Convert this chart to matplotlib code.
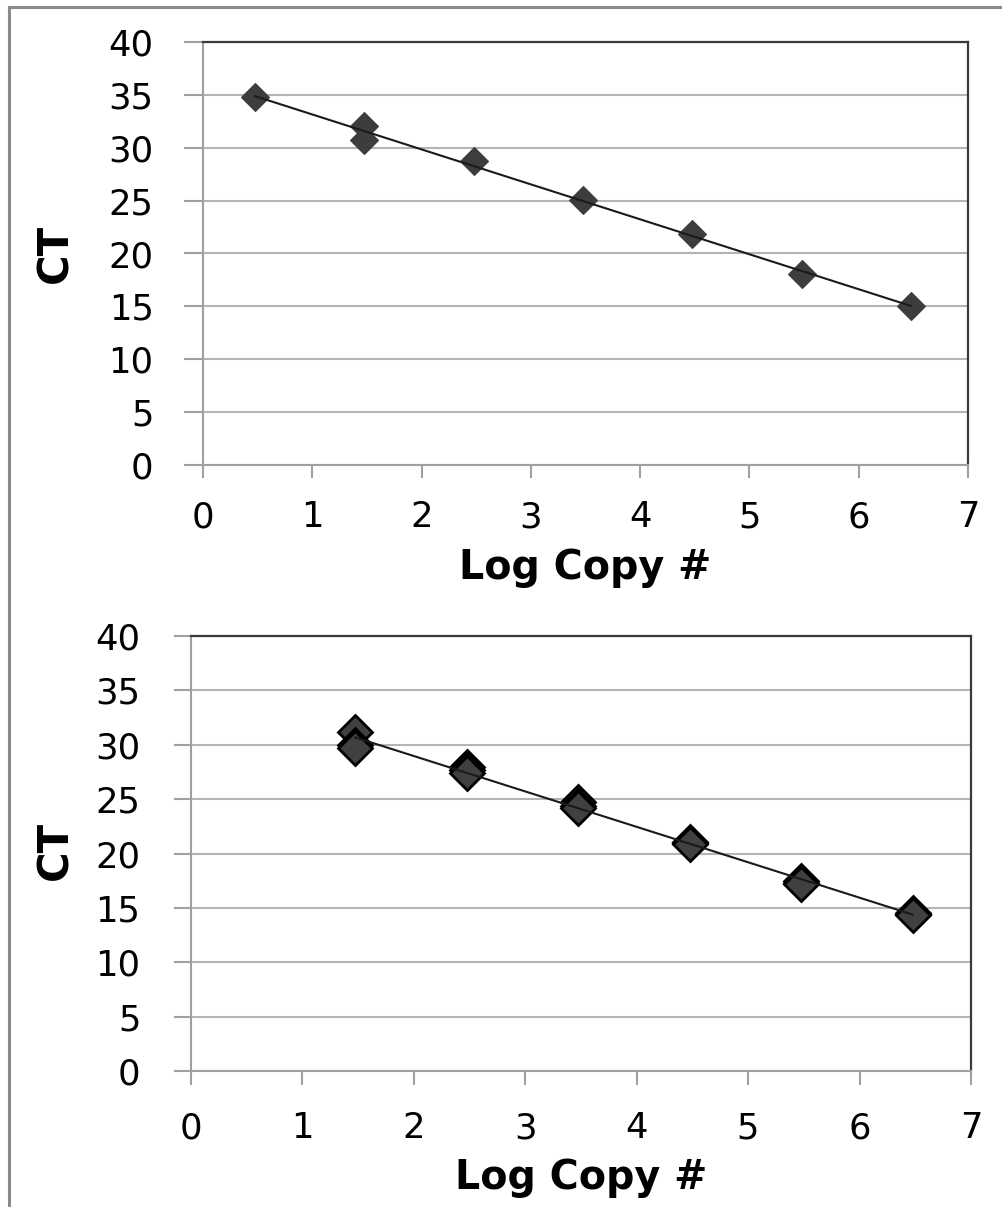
import numpy as np
import matplotlib
matplotlib.use("Agg")
import matplotlib.pyplot as plt
from matplotlib.lines import Line2D

# standard curve data: log10 copy number vs threshold cycle
top_log_copy = [0.477, 1.477, 1.477, 2.477, 3.477, 4.477, 5.477, 6.477]
top_ct = [34.8, 32.1, 30.7, 28.7, 25.1, 21.8, 18.1, 15.0]

bottom_log_copy = [1.477, 1.477, 1.477,
                   2.477, 2.477, 2.477,
                   3.477, 3.477, 3.477,
                   4.477, 4.477, 4.477,
                   5.477, 5.477, 5.477,
                   6.477, 6.477, 6.477]
bottom_ct = [31.2, 30.0, 29.7,
             28.0, 27.7, 27.4,
             24.7, 24.4, 24.2,
             21.1, 21.0, 20.9,
             17.5, 17.3, 17.2,
             14.5, 14.4, 14.3]

x_ticks = [0, 1, 2, 3, 4, 5, 6, 7]
y_ticks = [0, 5, 10, 15, 20, 25, 30, 35, 40]
x_label = "Log Copy #"
y_label = "CT"

plt.rcParams['font.family'] = ['DejaVu Sans']

W, H = 1002, 1207
fig = plt.figure(figsize=(W / 100, H / 100), dpi=100)


def px_axes(left, right, top, bottom):
    return fig.add_axes([left / W, 1 - bottom / H, (right - left) / W, (bottom - top) / H])


def style_axes(ax, ylen, xlen, ypad, xpad):
    ax.set_xlim(0, 7)
    ax.set_ylim(0, 40)
    ax.set_xticks(x_ticks)
    ax.set_yticks(y_ticks)
    ax.grid(axis='y', color='#b4b4b4', linewidth=1.5, zorder=0)
    ax.set_axisbelow(True)
    for side in ('left', 'bottom'):
        ax.spines[side].set_color('#a0a0a0')
        ax.spines[side].set_linewidth(1.5)
    for side in ('top', 'right'):
        ax.spines[side].set_color('#3a3a3a')
        ax.spines[side].set_linewidth(1.6)
    ax.tick_params(axis='y', direction='out', length=ylen, width=1.5,
                   color='#a0a0a0', labelsize=25.5, pad=ypad)
    ax.tick_params(axis='x', direction='out', length=xlen, width=1.5,
                   color='#a0a0a0', labelsize=25.5, pad=xpad)


def trend(ax, x, y):
    slope, icpt = np.polyfit(x, y, 1)
    xs = np.array([min(x), max(x)])
    ax.plot(xs, slope * xs + icpt, color='#1a1a1a', linewidth=1.5, zorder=4)


# upper chart
ax1 = px_axes(203, 968, 42, 465)
style_axes(ax1, 13.5, 9.5, 22, 16)
ax1.plot(top_log_copy, top_ct, linestyle='none', marker='D', markersize=14.5,
         markerfacecolor='#3d3d3d', markeredgecolor='#3d3d3d', markeredgewidth=0.8, zorder=3)
trend(ax1, top_log_copy, top_ct)
ax1.text(-0.193, 0.5, y_label, transform=ax1.transAxes, rotation=90,
         ha='center', va='center', fontsize=30, fontweight='bold')
ax1.text(0.5, -0.2435, x_label, transform=ax1.transAxes,
         ha='center', va='center', fontsize=28.5, fontweight='bold')

# lower chart
ax2 = px_axes(190.7, 971, 636, 1071)
style_axes(ax2, 12.2, 10, 24, 19)
ax2.plot(bottom_log_copy, bottom_ct, linestyle='none', marker='D', markersize=17,
         markerfacecolor='#404040', markeredgecolor='#000000', markeredgewidth=2, zorder=3)
trend(ax2, bottom_log_copy, bottom_ct)
ax2.text(-0.174, 0.508, y_label, transform=ax2.transAxes, rotation=90,
         ha='center', va='center', fontsize=30, fontweight='bold')
ax2.text(0.5, -0.246, x_label, transform=ax2.transAxes,
         ha='center', va='center', fontsize=28.5, fontweight='bold')

# outer frame on the left and top edges
fig.add_artist(Line2D([9 / W, 9 / W], [0, 1 - 7 / H], color='#8a8a8a', linewidth=2.2))
fig.add_artist(Line2D([9 / W, 1], [1 - 7 / H, 1 - 7 / H], color='#8a8a8a', linewidth=2.2))

fig.savefig("out.png", dpi=100)
